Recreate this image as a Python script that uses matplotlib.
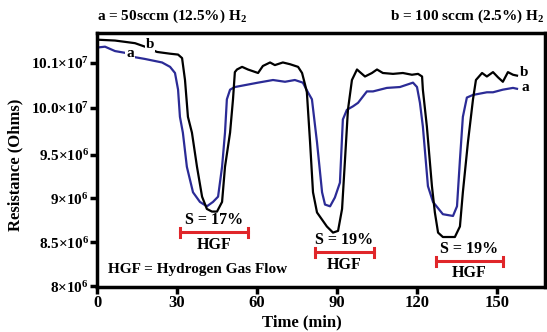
import matplotlib
matplotlib.use("Agg")
import matplotlib.pyplot as plt

plt.rcParams['font.family'] = ['Liberation Serif', 'DejaVu Serif']
plt.rcParams['font.weight'] = 'bold'
plt.rcParams['mathtext.default'] = 'regular'

# curve b (100 sccm, black)
t_b = [0, 6.75, 14.25, 18.0, 22.5, 27.4, 30.4, 31.9, 33.0, 34.1, 35.6, 37.5, 39.4, 41.2,
       43.1, 45.0, 46.9, 48.0, 49.9, 51.0, 51.7, 52.5, 54.4, 56.6, 60.4, 62.2, 64.9, 66.7,
       69.7, 72.4, 75.4, 76.9, 78.0, 78.7, 79.9, 81.0, 82.5, 86.2, 88.5, 90.4, 91.9, 93.0,
       94.1, 95.6, 97.5, 98.6, 100.5, 103.1, 105.0, 107.2, 111.0, 114.7, 118.1, 120.4,
       121.9, 122.2, 123.7, 125.6, 126.7, 127.9, 129.7, 134.2, 136.1, 137.2, 139.1, 141.0,
       142.1, 144.4, 146.2, 148.5, 150.4, 152.2, 154.1, 156.0, 157.5]
r_b = [10.81, 10.80, 10.77, 10.73, 10.67, 10.65, 10.64, 10.60, 10.35, 9.93, 9.75, 9.36,
       9.02, 8.88, 8.85, 8.85, 8.96, 9.36, 9.75, 10.13, 10.44, 10.47, 10.50, 10.47, 10.43,
       10.51, 10.55, 10.52, 10.55, 10.53, 10.50, 10.43, 10.30, 10.21, 9.64, 9.07, 8.84,
       8.68, 8.61, 8.63, 8.88, 9.44, 10.01, 10.35, 10.47, 10.44, 10.39, 10.43, 10.47,
       10.43, 10.42, 10.43, 10.41, 10.42, 10.39, 10.24, 9.82, 9.14, 8.84, 8.61, 8.56,
       8.56, 8.68, 9.07, 9.64, 10.13, 10.35, 10.43, 10.39, 10.44, 10.38, 10.33, 10.44,
       10.41, 10.40]

# curve a (50 sccm, blue)
t_a = [0, 3.0, 6.75, 10.5, 14.25, 18.0, 24.4, 27.4, 29.25, 30.4, 31.1, 32.2, 33.7, 36.0,
       38.6, 41.2, 43.5, 45.4, 46.9, 48.0, 48.7, 49.9, 51.7, 60.4, 66.0, 70.5, 74.2, 77.2,
       79.1, 80.6, 82.5, 84.4, 85.5, 87.4, 89.2, 91.1, 92.2, 93.7, 96.0, 97.9, 101.2,
       103.5, 108.7, 113.6, 118.5, 120.0, 121.1, 122.2, 124.1, 126.0, 129.7, 133.5, 135.0,
       136.1, 137.2, 138.7, 141.0, 146.2, 148.5, 152.2, 156.0, 157.5]
r_a = [10.72, 10.73, 10.68, 10.66, 10.61, 10.59, 10.55, 10.50, 10.43, 10.24, 9.93, 9.75,
       9.36, 9.07, 8.96, 8.91, 8.96, 9.02, 9.36, 9.75, 10.13, 10.24, 10.27, 10.32, 10.35,
       10.33, 10.35, 10.32, 10.21, 10.13, 9.64, 9.07, 8.93, 8.91, 9.01, 9.18, 9.90, 10.01,
       10.05, 10.09, 10.22, 10.22, 10.26, 10.27, 10.32, 10.27, 10.09, 9.82, 9.14, 8.96,
       8.82, 8.80, 8.91, 9.44, 9.93, 10.15, 10.18, 10.21, 10.21, 10.24, 10.26, 10.25]

xticks = [0, 30, 60, 90, 120, 150]
yticks = [8.0, 8.5, 9.0, 9.5, 10.034, 10.545]
ylabels = ['8×10$^6$', '8.5×10$^6$', '9×10$^6$', '9.5×10$^6$', '10.0×10$^7$', '10.1×10$^7$']

# hydrogen exposure windows: start, end, sensitivity
hgf_start = [31.1, 81.7, 127.1]
hgf_end = [56.6, 103.9, 152.2]
hgf_level = [8.614, 8.386, 8.284]
sens = ['S = 17%', 'S = 19%', 'S = 19%']

fig = plt.figure(figsize=(5.47, 3.32), dpi=100)
ax = fig.add_axes([97 / 547, 45 / 332, 448 / 547, 254 / 332])

blue = '#2b2b96'
ax.plot(t_a, r_a, color=blue, lw=1.6)
ax.plot(t_b, r_b, color='black', lw=1.6)

box = dict(facecolor='white', edgecolor='none', pad=0.5)
ax.text(19.9, 10.75, 'b', fontsize=11, ha='center', va='center', bbox=box)
ax.text(12.4, 10.65, 'a', fontsize=11, ha='center', va='center', bbox=box)
ax.text(160.2, 10.43, 'b', fontsize=11, ha='center', va='center')
ax.text(160.6, 10.26, 'a', fontsize=11, ha='center', va='center')

red = '#e0262a'
for s, e, lv, lab in zip(hgf_start, hgf_end, hgf_level, sens):
    ax.plot([s, e], [lv, lv], color=red, lw=2.2)
    ax.plot([s, s], [lv - 0.05, lv + 0.05], color=red, lw=2.2)
    ax.plot([e, e], [lv - 0.05, lv + 0.05], color=red, lw=2.2)
    mid = (s + e) / 2
    ax.text(mid, lv + 0.135, lab, fontsize=11.5, ha='center', va='center')
    ax.text(mid, lv - 0.14, 'HGF', fontsize=11.5, ha='center', va='center')

ax.text(4.1, 8.19, 'HGF = Hydrogen Gas Flow', fontsize=11, ha='left', va='center')

ax.set_xlim(0, 168)
ax.set_ylim(7.99, 10.886)
ax.set_xticks(xticks)
ax.set_xticklabels([str(v) for v in xticks], fontsize=12)
ax.set_yticks(yticks)
ax.set_yticklabels(ylabels, fontsize=11)
ax.tick_params(direction='out', length=5, width=2.5, color='black', pad=1)
for sp in ax.spines.values():
    sp.set_linewidth(2.5)

ax.text(0.458, -0.138, 'Time (min)', transform=ax.transAxes, fontsize=12,
        ha='center', va='center')
ax.text(-0.183, 0.48, 'Resistance (Ohms)', transform=ax.transAxes, fontsize=12,
        ha='center', va='center', rotation=90)

fig.text(97 / 547, 1 - 16 / 332, 'a = 50sccm (12.5%) H$_2$', fontsize=11,
         ha='left', va='center')
fig.text(545 / 547, 1 - 16 / 332, 'b = 100 sccm (2.5%) H$_2$', fontsize=11,
         ha='right', va='center')

fig.savefig('out.png', dpi=100)
